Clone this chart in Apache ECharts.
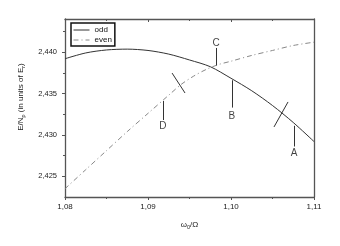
<!DOCTYPE html>
<html><head><meta charset="utf-8">
<script src="https://cdn.jsdelivr.net/npm/echarts@6/dist/echarts.min.js"></script>
<style>html,body{margin:0;padding:0;background:#fff}#c{width:340px;height:246px}</style>
</head><body><div id="c"></div>
<script>
// ---- data ----
const oddX = [1.080, 1.0825, 1.085, 1.0875, 1.090, 1.0925, 1.095, 1.0975, 1.100, 1.1025, 1.105, 1.1075, 1.110];
const oddValues = [2.4392, 2.4399, 2.44026, 2.44036, 2.4402, 2.43976, 2.43905, 2.43824, 2.43684, 2.43533, 2.43355, 2.4315, 2.4292];
const evenX = [1.080, 1.0825, 1.085, 1.0875, 1.090, 1.0925, 1.094, 1.0955, 1.097, 1.0985, 1.100, 1.1025, 1.105, 1.1075, 1.110];
const evenValues = [2.4235, 2.4258, 2.4281, 2.4304, 2.4326, 2.4348, 2.4361, 2.4371, 2.4379, 2.4385, 2.4389, 2.4396, 2.4402, 2.4408, 2.4412];
const yTickValues = [2.425, 2.430, 2.435, 2.440];
const yMinorValues = [2.4275, 2.4325, 2.4375, 2.4425];
const seriesNames = ['odd', 'even'];
// annotation labels: name, x, line top y, line bottom y, label y
const labelNames = ['A', 'B', 'C', 'D'];
const labelX = [1.1076, 1.1001, 1.0982, 1.0918];
const leaderFrom = [2.4311, 2.4366, 2.4405, 2.4341];
const leaderTo = [2.4286, 2.4333, 2.4384, 2.4318];
const labelY = [2.4278, 2.4323, 2.4411, 2.4310];
// slash crossing marks [x1,y1,x2,y2]
const slashMarks = [[1.0929, 2.43747, 1.09446, 2.43506], [1.10518, 2.43096, 1.10687, 2.43398]];

const axisColor = '#555';
const fontFam = 'Liberation Sans, Arial, sans-serif';

const leaderLines = labelNames.map((n, i) => [{coord: [labelX[i], leaderFrom[i]]}, {coord: [labelX[i], leaderTo[i]]}]);
const slashLines = slashMarks.map(s => [{coord: [s[0], s[1]]}, {coord: [s[2], s[3]]}]);

const chart = echarts.init(document.getElementById('c'), null, {renderer: 'canvas'});
chart.setOption({
  animation: false,
  backgroundColor: '#fff',
  textStyle: {fontFamily: fontFam},
  grid: {left: 65, right: 26, top: 19, bottom: 49},
  legend: {
    orient: 'vertical', left: 71, top: 23,
    padding: [3, 3, 2, 2], itemGap: 2, itemWidth: 16, itemHeight: 8,
    borderColor: '#111', borderWidth: 1.5,
    itemStyle: {color: 'transparent', borderWidth: 0, opacity: 0},
    lineStyle: {width: 1},
    textStyle: {fontSize: 8, color: '#111', fontFamily: fontFam},
    data: seriesNames
  },
  xAxis: [{
    type: 'value', min: 1.08, max: 1.11, interval: 0.01,
    axisLine: {show: true, lineStyle: {color: axisColor, width: 1.3}},
    axisTick: {show: true, length: 3, lineStyle: {color: axisColor}},
    minorTick: {show: true, splitNumber: 2, length: 2, lineStyle: {color: axisColor}},
    splitLine: {show: false},
    axisLabel: {fontSize: 8, color: '#222', margin: 6, formatter: v => v.toFixed(2).replace('.', ',')},
    name: '{a|ω}{s|0}{a|/Ω}', nameLocation: 'middle', nameGap: 23,
    nameTextStyle: {rich: {
      a: {fontSize: 8, color: '#222', fontFamily: fontFam},
      s: {fontSize: 5.5, color: '#222', verticalAlign: 'bottom', padding: [4, 0, 0, 0], fontFamily: fontFam}
    }}
  }, {
    type: 'value', position: 'top', min: 1.08, max: 1.11, interval: 0.01,
    axisLine: {show: true, lineStyle: {color: axisColor, width: 1.3}},
    axisTick: {show: true, inside: true, length: 3, lineStyle: {color: axisColor}},
    minorTick: {show: true, splitNumber: 2, length: 2, lineStyle: {color: axisColor}},
    splitLine: {show: false}, axisLabel: {show: false}
  }],
  yAxis: [{
    type: 'value', min: 2.4225, max: 2.444,
    axisLine: {show: true, lineStyle: {color: axisColor, width: 1.3}},
    axisTick: {show: true, length: 3, customValues: yTickValues, lineStyle: {color: axisColor}},
    splitLine: {show: false},
    axisLabel: {fontSize: 7.5, color: '#222', margin: 8, customValues: yTickValues,
      formatter: v => v.toFixed(3).replace('.', ',')}
  }, {
    type: 'value', position: 'left', min: 2.4225, max: 2.444,
    axisLine: {show: false},
    axisTick: {show: true, length: 2, customValues: yMinorValues, lineStyle: {color: axisColor}},
    splitLine: {show: false}, axisLabel: {show: false}
  }, {
    type: 'value', position: 'right', min: 2.4225, max: 2.444,
    axisLine: {show: true, lineStyle: {color: axisColor, width: 1.3}},
    axisTick: {show: false}, splitLine: {show: false}, axisLabel: {show: false}
  }],
  graphic: [{
    type: 'text', x: 21, y: 97, rotation: Math.PI / 2,
    style: {
      text: '{a|E/N}{s|p}{a| (in units of E}{s|r}{a|)}',
      align: 'center', verticalAlign: 'middle',
      rich: {
        a: {fontSize: 8, fill: '#222', fontFamily: fontFam},
        s: {fontSize: 5.5, fill: '#222', verticalAlign: 'bottom', padding: [4, 0, 0, 0], fontFamily: fontFam}
      }
    }
  }],
  series: [{
    name: seriesNames[0], type: 'line', symbol: 'none', smooth: 0.3,
    data: oddX.map((x, i) => [x, oddValues[i]]),
    lineStyle: {color: '#333', width: 1},
    itemStyle: {color: '#333'},
    z: 3
  }, {
    name: seriesNames[1], type: 'line', symbol: 'none', smooth: 0.3,
    data: evenX.map((x, i) => [x, evenValues[i]]),
    lineStyle: {color: '#888', width: 1, type: [5, 3, 1, 3]},
    itemStyle: {color: '#888'},
    z: 2
  }, {
    name: 'marks', type: 'line', data: [], symbol: 'none',
    markLine: {
      silent: true, symbol: ['none', 'none'], animation: false,
      label: {show: false},
      lineStyle: {color: '#333', width: 1, type: 'solid'},
      data: leaderLines.concat(slashLines)
    }
  }, {
    name: 'labels', type: 'scatter', symbolSize: 0,
    data: labelNames.map((n, i) => ({value: [labelX[i], labelY[i]], name: n})),
    label: {show: true, position: 'inside', formatter: p => p.name, fontSize: 10, color: '#111', fontFamily: fontFam}
  }]
});
</script></body></html>
